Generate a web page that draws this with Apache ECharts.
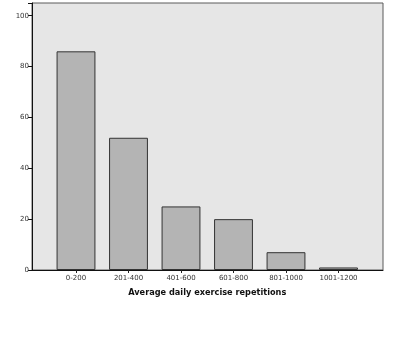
<!DOCTYPE html>
<html>
<head>
<meta charset="utf-8">
<script src="https://cdn.jsdelivr.net/npm/echarts@6/dist/echarts.min.js"></script>
<style>
  html, body { margin: 0; padding: 0; background: #fff; }
  #chart { width: 417px; height: 356px; }
</style>
</head>
<body>
<div id="chart"></div>
<script>
// categories and counts
const categories = ['0-200', '201-400', '401-600', '601-800', '801-1000', '1001-1200']
const counts = [86, 52, 25, 20, 7, 1]
const yTicks = [0, 20, 40, 60, 80, 100]

const chart = echarts.init(document.getElementById('chart'))

chart.setOption({
  animation: false,
  grid: [
    // frame + y axis
    { left: 32, top: 3, width: 351, height: 267, show: true,
      backgroundColor: '#e6e6e6', borderColor: '#5a5a5a', borderWidth: 1 },
    // bars (narrower band so the outer bars sit away from the frame)
    { left: 49.75, top: 3, width: 315, height: 267 }
  ],
  xAxis: [
    {
      gridIndex: 0, type: 'value', min: 0, max: 1,
      axisLine: { show: true, lineStyle: { color: '#111', width: 1 } },
      axisTick: { show: false },
      axisLabel: { show: false },
      splitLine: { show: false }
    },
    {
      gridIndex: 1,
      type: 'category',
      data: categories,
      name: 'Average daily exercise repetitions',
      nameLocation: 'middle',
      nameGap: 19,
      nameTextStyle: { fontFamily: 'DejaVu Sans', fontSize: 8.2, fontWeight: 'bold', color: '#111' },
      axisLine: { show: false },
      axisTick: { show: true, alignWithLabel: true, length: 3, lineStyle: { color: '#222' } },
      axisLabel: { fontFamily: 'DejaVu Sans', fontSize: 7, color: '#333', margin: 5, interval: 0 }
    }
  ],
  yAxis: [
    {
      gridIndex: 0,
      type: 'value',
      min: 0,
      max: 105,
      interval: 20,
      axisLine: { show: true, lineStyle: { color: '#111', width: 1 } },
      axisTick: { show: true, length: 4, lineStyle: { color: '#111' } },
      axisLabel: {
        fontFamily: 'DejaVu Sans', fontSize: 7, color: '#333', margin: 3,
        formatter: v => (yTicks.indexOf(v) >= 0 ? String(v) : '')
      },
      splitLine: { show: false }
    },
    { gridIndex: 1, type: 'value', min: 0, max: 105, show: false }
  ],
  series: [
    {
      type: 'bar',
      xAxisIndex: 1,
      yAxisIndex: 1,
      data: counts,
      barCategoryGap: '26%',
      itemStyle: { color: '#b4b4b4', borderColor: '#333', borderWidth: 1 }
    }
  ]
})
</script>
</body>
</html>
